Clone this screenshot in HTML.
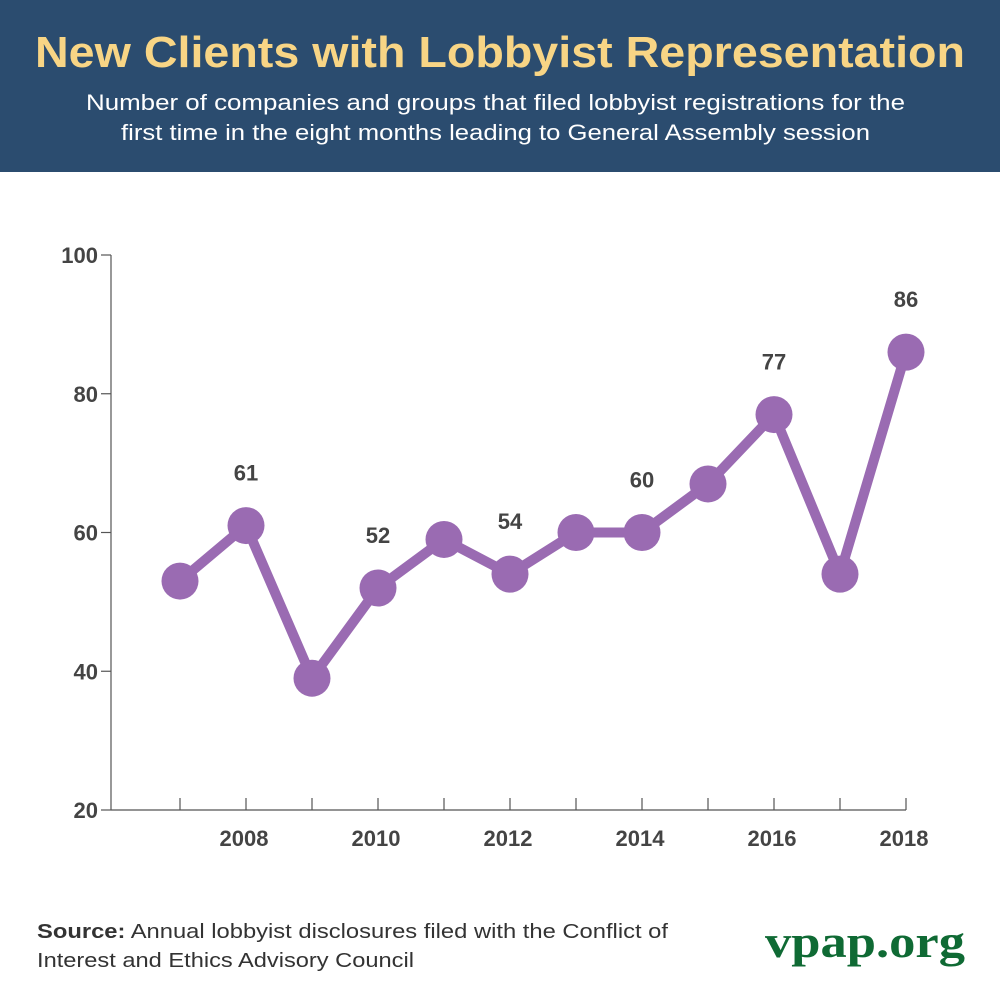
<!DOCTYPE html>
<html><head><meta charset="utf-8"><style>
body{margin:0;background:#fff}
svg{display:block;font-family:"Liberation Sans",sans-serif}
</style></head><body>
<svg width="1000" height="1000" viewBox="0 0 1000 1000">
<rect x="0" y="0" width="1000" height="172" fill="#2b4c6f"/>
<text x="35" y="67" font-size="44" font-weight="bold" fill="#f8d585" textLength="930" lengthAdjust="spacingAndGlyphs">New Clients with Lobbyist Representation</text>
<text x="86" y="110" font-size="22" fill="#ffffff" textLength="819" lengthAdjust="spacingAndGlyphs">Number of companies and groups that filed lobbyist registrations for the</text>
<text x="121" y="140" font-size="22" fill="#ffffff" textLength="749" lengthAdjust="spacingAndGlyphs">first time in the eight months leading to General Assembly session</text>
<g id="plot"></g>
<text x="37" y="938" font-size="20" fill="#333" textLength="631" lengthAdjust="spacingAndGlyphs"><tspan font-weight="bold">Source:</tspan> Annual lobbyist disclosures filed with the Conflict of</text>
<text x="37" y="967" font-size="20" fill="#333" textLength="377" lengthAdjust="spacingAndGlyphs">Interest and Ethics Advisory Council</text>
<text x="765" y="957" font-size="46" font-weight="bold" fill="#0f6a34" font-family="Liberation Serif, serif" textLength="200" lengthAdjust="spacingAndGlyphs">vpap.org</text>
</svg>
<script>
const years=[2007,2008,2009,2010,2011,2012,2013,2014,2015,2016,2017,2018];
const values=[53,61,39,52,59,54,60,60,67,77,54,86];
const labelYears=[2008,2010,2012,2014,2016,2018];
const yTicks=[20,40,60,80,100];
const NS="http://www.w3.org/2000/svg";
const g=document.getElementById('plot');
const X0=111,X1=906,Y0=810,Y1=255;
function xs(y){return 180+(y-2007)*66;}
function ys(v){return Y0-(v-20)/80*(Y0-Y1);}
function mk(t,a,parent){const e=document.createElementNS(NS,t);for(const k in a)e.setAttribute(k,a[k]);(parent||g).appendChild(e);return e;}
let e=mk('line',{x1:X0,y1:Y1,x2:X0,y2:Y0,stroke:'#555','stroke-width':1.2});


e=mk('line',{x1:X0,y1:Y0,x2:X1,y2:Y0,stroke:'#555','stroke-width':1.2});


yTicks.forEach(v=>{
 const t=mk('line',{x1:X0-10,y1:ys(v),x2:X0,y2:ys(v),stroke:'#555','stroke-width':1.2});
 
 
 const l=mk('text',{x:98,y:ys(v)+8,'font-size':22,'font-weight':'bold',fill:'#444','text-anchor':'end'});
 l.textContent=v;
 
 
});
years.forEach(y=>{
 const t=mk('line',{x1:xs(y),y1:Y0-12,x2:xs(y),y2:Y0,stroke:'#555','stroke-width':1.2});
 
 
 if(y%2===0){
  const l=mk('text',{x:xs(y)-2,y:846,'font-size':22,'font-weight':'bold',fill:'#444','text-anchor':'middle'});
  l.textContent=y;
  
  
 }
});
const pl=mk('polyline',{points:years.map((y,i)=>xs(y)+','+ys(values[i])).join(' '),fill:'none',stroke:'#9a6bb2','stroke-width':10,'stroke-linejoin':'round'});


years.forEach((y,i)=>{
 const c=mk('circle',{cx:xs(y),cy:ys(values[i]),r:18.5,fill:'#9a6bb2'});
 
 
 if(labelYears.includes(y)){
  const l=mk('text',{x:xs(y),y:ys(values[i])-45,'font-size':22,'font-weight':'bold',fill:'#444','text-anchor':'middle'});
  l.textContent=values[i];
  
  
 }
});
</script>
</body></html>
